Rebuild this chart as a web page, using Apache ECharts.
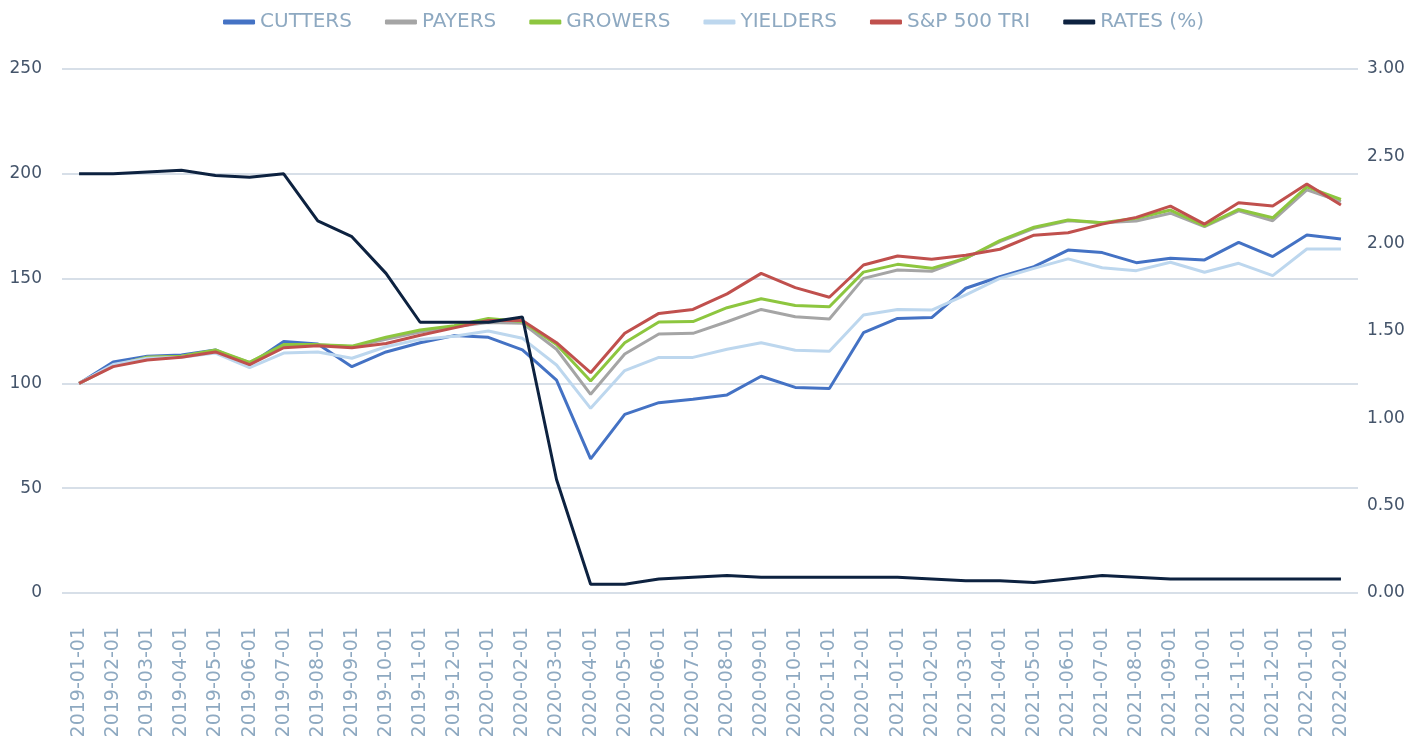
<!DOCTYPE html>
<html>
<head>
<meta charset="utf-8">
<script src="https://cdn.jsdelivr.net/npm/echarts@6/dist/echarts.min.js"></script>
<style>
  html, body { margin: 0; padding: 0; background: #fff; }
  #chart { width: 1427px; height: 749px; }
</style>
</head>
<body>
<div id="chart"></div>
<script>
var months = [
  "2019-01-01", "2019-02-01", "2019-03-01", "2019-04-01", "2019-05-01", "2019-06-01",
  "2019-07-01", "2019-08-01", "2019-09-01", "2019-10-01", "2019-11-01", "2019-12-01",
  "2020-01-01", "2020-02-01", "2020-03-01", "2020-04-01", "2020-05-01", "2020-06-01",
  "2020-07-01", "2020-08-01", "2020-09-01", "2020-10-01", "2020-11-01", "2020-12-01",
  "2021-01-01", "2021-02-01", "2021-03-01", "2021-04-01", "2021-05-01", "2021-06-01",
  "2021-07-01", "2021-08-01", "2021-09-01", "2021-10-01", "2021-11-01", "2021-12-01",
  "2022-01-01", "2022-02-01"
];

var cutters = [100, 110.2, 113, 113.5, 116, 109, 120, 118.8, 108, 115, 119.4, 122.8,
  122, 116, 101.6, 64, 85.2, 90.8, 92.4, 94.5, 103.4, 98.1, 97.6, 124.2,
  131, 131.4, 145.4, 150.9, 155.7, 163.6, 162.4, 157.6, 159.7, 158.9, 167.3, 160.5,
  170.8, 168.9];

var payers = [100, 108.3, 112.5, 113, 115.5, 110, 118, 118.5, 117.5, 121, 124.5, 127,
  129, 128.7, 116.3, 94.8, 114, 123.6, 123.9, 129.4, 135.3, 131.8, 130.7, 150.1,
  154.1, 153.5, 159.7, 167.6, 174, 177.6, 176.7, 177.5, 181.2, 174.8, 182.3, 177.6,
  192.3, 186.7];

var growers = [100, 108.5, 112.5, 113, 116, 110, 118.5, 118.5, 117.8, 122, 125.5, 127.5,
  131, 129.5, 118.6, 101.1, 119.4, 129.3, 129.5, 136.1, 140.4, 137.2, 136.6, 153.1,
  156.8, 154.9, 159.7, 168.1, 174.5, 178, 176.7, 178.8, 182.7, 175.2, 183, 179,
  193.8, 187.8];

var yielders = [100, 109, 112, 112.5, 114.5, 107.5, 114.5, 115, 112, 117.5, 121, 122.5,
  125, 121.5, 108.8, 88.1, 106.1, 112.4, 112.4, 116.3, 119.4, 115.8, 115.3, 132.6,
  135.3, 135, 142.2, 150.1, 154.9, 159.4, 155.2, 153.8, 157.8, 153, 157.3, 151.4,
  164.1, 164.1];

var sp500 = [100, 108, 111.2, 112.5, 115, 109, 117, 118, 117, 119, 123, 126.5,
  130, 130, 119.4, 105.1, 123.9, 133.4, 135.3, 142.7, 152.5, 145.7, 141.1, 156.5,
  160.8, 159.2, 161.1, 164, 170.7, 171.9, 176, 179.2, 184.6, 176, 186.2, 184.6,
  195.1, 185.1];

var rates = [2.40, 2.40, 2.41, 2.42, 2.39, 2.38, 2.40, 2.13, 2.04, 1.83, 1.55, 1.55,
  1.55, 1.58, 0.65, 0.05, 0.05, 0.08, 0.09, 0.10, 0.09, 0.09, 0.09, 0.09,
  0.09, 0.08, 0.07, 0.07, 0.06, 0.08, 0.10, 0.09, 0.08, 0.08, 0.08, 0.08,
  0.08, 0.08];

var leftTicks = { min: 0, max: 250, interval: 50 };
var rightTicks = { min: 0, max: 3, interval: 0.5 };

var FONT = "'DejaVu Sans', sans-serif";

function line(name, data, color, axis) {
  return {
    name: name,
    type: "line",
    data: data,
    yAxisIndex: axis,
    symbol: "none",
    lineStyle: { color: color, width: 3 },
    itemStyle: { color: color },
  };
}

var chartDom = document.getElementById("chart");
var myChart = echarts.init(chartDom, null, { renderer: "canvas" });

var option = {
  animation: false,
  legend: {
    top: 7,
    left: "center",
    icon: "roundRect",
    itemWidth: 32,
    itemHeight: 5,
    itemGap: 33,
    textStyle: { color: "#8EA9C1", fontSize: 20, fontFamily: FONT },
  },
  grid: { left: 62, right: 69, top: 69, bottom: 156 },
  xAxis: {
    type: "category",
    data: months,
    boundaryGap: true,
    axisLine: { show: false },
    axisTick: { show: false },
    axisLabel: {
      rotate: 90,
      interval: 0,
      margin: 34,
      color: "#8EA9C1",
      fontSize: 19,
      fontFamily: FONT,
    },
  },
  yAxis: [
    {
      type: "value",
      min: leftTicks.min,
      max: leftTicks.max,
      interval: leftTicks.interval,
      axisLine: { show: false },
      axisTick: { show: false },
      splitLine: { lineStyle: { color: "#CAD5E1", width: 1.5 } },
      axisLabel: { margin: 20, color: "#44546A", fontSize: 17, fontFamily: FONT },
    },
    {
      type: "value",
      min: rightTicks.min,
      max: rightTicks.max,
      interval: rightTicks.interval,
      axisLine: { show: false },
      axisTick: { show: false },
      splitLine: { show: false },
      axisLabel: {
        margin: 9,
        color: "#44546A",
        fontSize: 17,
        fontFamily: FONT,
        formatter: function (v) { return v.toFixed(2); },
      },
    },
  ],
  series: [
    line("CUTTERS", cutters, "#4472C4", 0),
    line("PAYERS", payers, "#A5A5A5", 0),
    line("GROWERS", growers, "#8DC63F", 0),
    line("YIELDERS", yielders, "#BDD7EE", 0),
    line("S&P 500 TRI", sp500, "#C0504D", 0),
    line("RATES (%)", rates, "#0D2240", 1),
  ],
};

option && myChart.setOption(option);
</script>
</body>
</html>
